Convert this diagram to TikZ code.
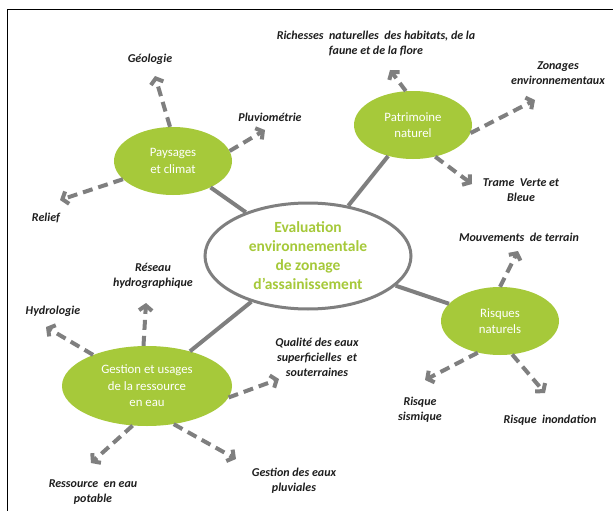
\documentclass[tikz,border=0pt]{standalone}
\usepackage{fontspec}
\setmainfont{Carlito}
\usetikzlibrary{arrows.meta,shapes.geometric}
\definecolor{leaf}{RGB}{166,201,58}
\definecolor{ink}{RGB}{127,127,127}
\definecolor{txt}{RGB}{30,30,30}
\begin{document}
\begin{tikzpicture}[x=1pt,y=-1pt,
  topic/.style={ellipse,fill=leaf,draw=none,inner sep=0pt,text=white,align=center,
    font=\fontsize{12.8}{16.5}\selectfont},
  hub/.style={ellipse,fill=white,draw=ink,line width=3pt,inner sep=0pt,text=leaf,align=center,
    font=\fontsize{15.5}{19}\selectfont\bfseries},
  lbl/.style={align=center,text=txt,inner sep=0pt,font=\fontsize{12}{15}\selectfont\bfseries\itshape},
  link/.style={draw=ink,line width=4pt},
  dasharrow/.style={draw=ink,line width=4pt,dash pattern=on 10pt off 6pt,
    -{Straight Barb[length=5pt,width=13pt]}},
]
\useasboundingbox (0,0) rectangle (613,511);
\fill[white] (0,0) rectangle (613,511);
\draw[line width=1pt,black] (7,511) -- (7,10) -- (613,10);

% nodes
\node[hub,minimum width=206pt,minimum height=106pt] (hub) at (308,256)
  {Evaluation\\environnementale\\de zonage\\d’assainissement};
\node[topic,minimum width=118pt,minimum height=68pt] (pay) at (173,161) {Paysages\\et climat};
\node[topic,minimum width=118pt,minimum height=68pt] (pat) at (413,125) {Patrimoine\\naturel};
\node[topic,minimum width=118pt,minimum height=68pt] (ris) at (500,321) {Risques\\naturels};
\node[topic,minimum width=170pt,minimum height=80pt] (ges) at (147,386) {Gestion et usages\\de la ressource\\en eau};

% solid links
\draw[link] (pay) -- (hub);
\draw[link] (pat) -- (hub);
\draw[link] (ris) -- (hub);
\draw[link] (ges) -- (hub);

% labels
\node[lbl] (geo) at (150,59) {Géologie};
\node[lbl] (pluv) at (270,117) {Pluviométrie};
\node[lbl] (rel) at (46,218) {Relief};
\node[lbl] (rich) at (376,43) {Richesses \ naturelles \ des habitats, de la\\faune et de la flore};
\node[lbl] (zon) at (558,73) {Zonages\\environnementaux};
\node[lbl] (tvb) at (521,190) {Trame \ Verte et\\Bleue};
\node[lbl] (mouv) at (519,237) {Mouvements \ de terrain};
\node[lbl] (sism) at (420,410) {Risque\\sismique};
\node[lbl] (inon) at (550,420) {Risque \ inondation};
\node[lbl] (res) at (153,276) {Réseau\\hydrographique};
\node[lbl] (hydro) at (53,311) {Hydrologie};
\node[lbl] (qual) at (317,357) {Qualité des eaux\\superficielles \ et\\souterraines};
\node[lbl] (pot) at (93,492) {Ressource \ en eau\\potable};
\node[lbl] (plu) at (294,481) {Gestion des eaux\\pluviales};

% arrow end points
\coordinate (eGeo) at (155,76);
\coordinate (ePluv) at (265,130);
\coordinate (eRel) at (60,200);
\coordinate (eRich) at (390,70);
\coordinate (eZon) at (535,100);
\coordinate (eTvb) at (472,184);
\coordinate (eMouv) at (518,251);
\coordinate (eSism) at (425,380);
\coordinate (eInon) at (545,393);
\coordinate (eRes) at (146,303);
\coordinate (eHydro) at (46,327);
\coordinate (eQual) at (279,379);
\coordinate (ePot) at (91,463);
\coordinate (ePlu) at (236,459);

% dashed arrows
\draw[dasharrow] (pay.95) -- (eGeo);
\draw[dasharrow] (pay.10) -- (ePluv);
\draw[dasharrow] (pay.200) -- (eRel);
\draw[dasharrow] (pat.102) -- (eRich);
\draw[dasharrow] (pat.352) -- (eZon);
\draw[dasharrow] (pat.305) -- (eTvb);
\draw[dasharrow] (ris.90) -- (eMouv);
\draw[dasharrow] (ris.235) -- (eSism);
\draw[dasharrow] (ris.290) -- (eInon);
\draw[dasharrow] (ges.95) -- (eRes);
\draw[dasharrow] (ges.150) -- (eHydro);
\draw[dasharrow] (ges.352) -- (eQual);
\draw[dasharrow] (ges.250) -- (ePot);
\draw[dasharrow] (ges.305) -- (ePlu);
\end{tikzpicture}
\end{document}
